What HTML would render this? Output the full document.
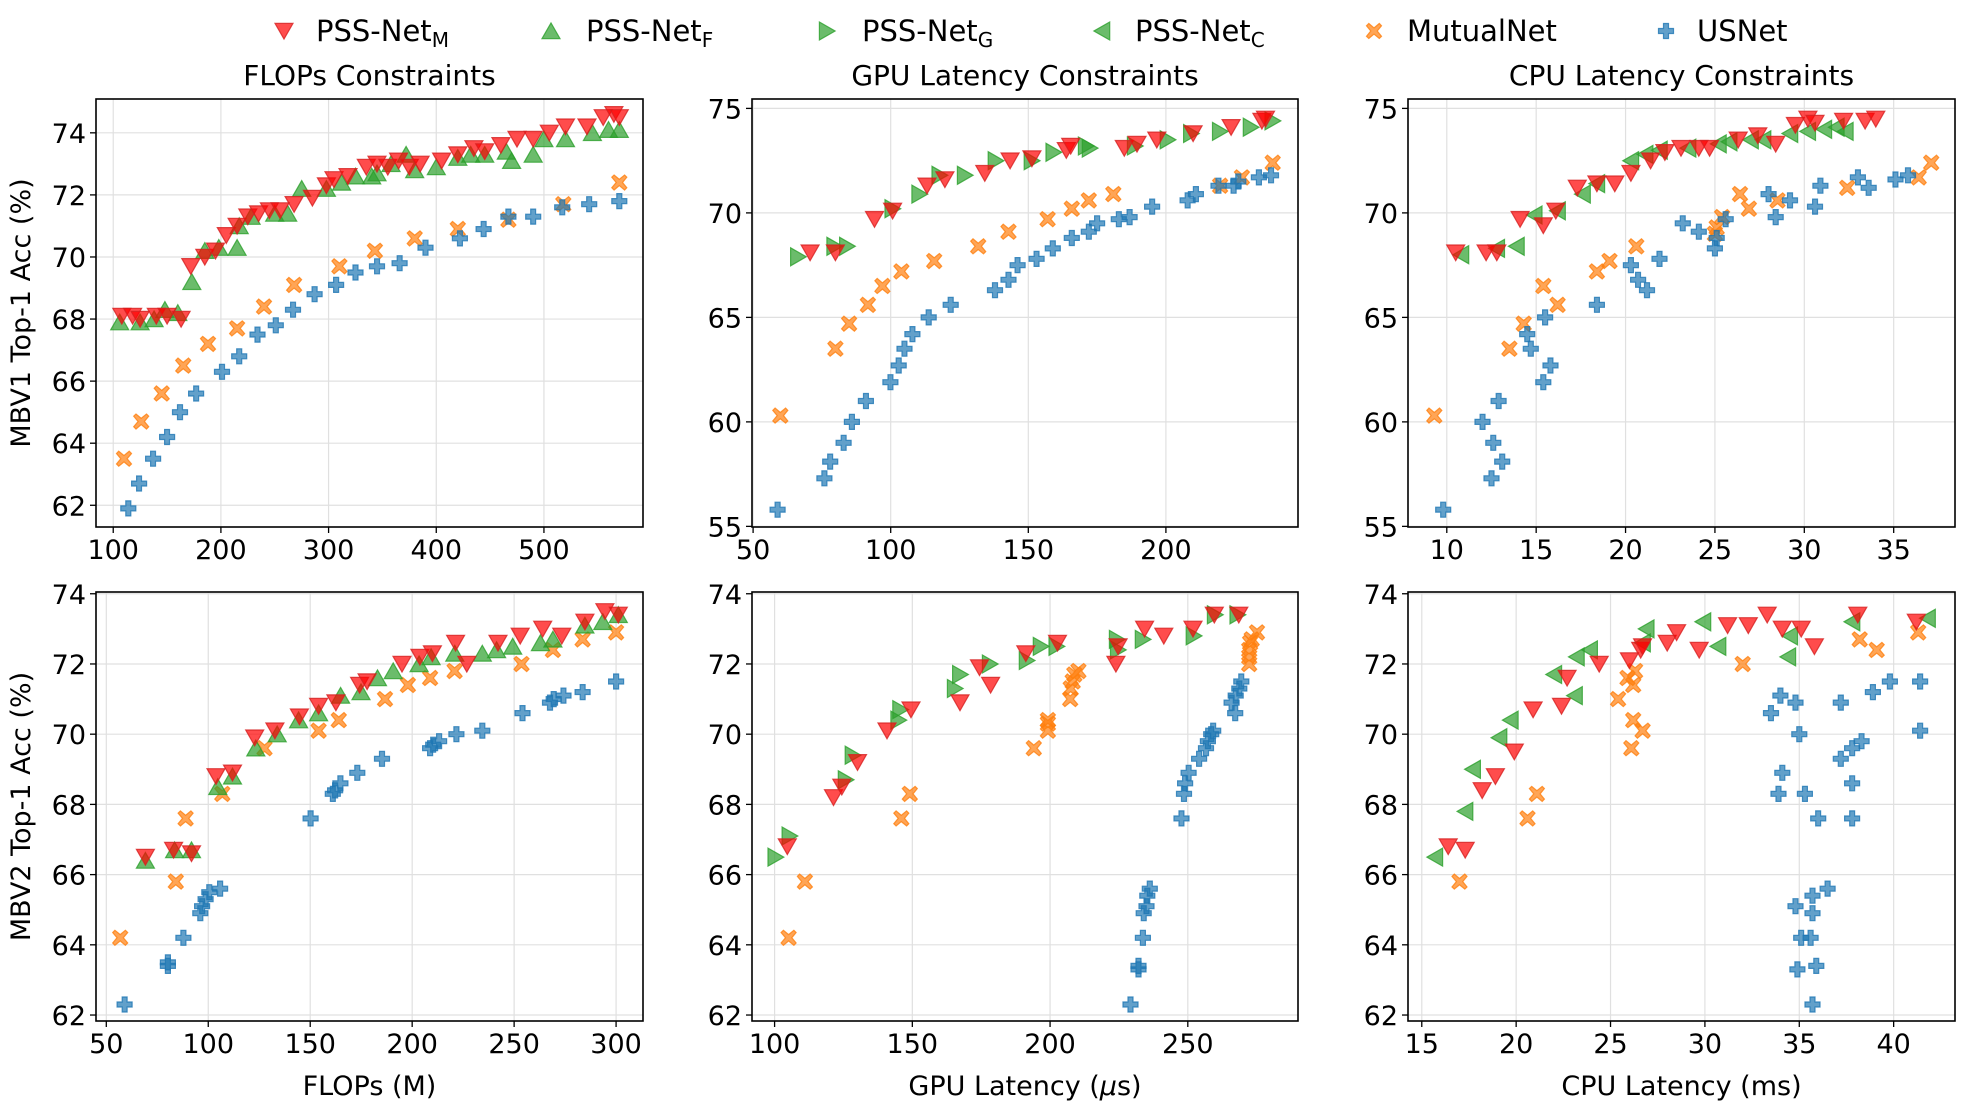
<!DOCTYPE html>
<html><head><meta charset="utf-8"><style>
body{margin:0;background:#fff;}
svg{display:block;font-family:"DejaVu Sans","Liberation Sans",sans-serif;}
</style></head><body>
<svg id="fig" width="1964" height="1111" viewBox="0 0 1964 1111" xmlns="http://www.w3.org/2000/svg"></svg>
<script>
// ---------- Data: Panel A (MBV1, FLOPs) ----------
const aMx=[108,118,125,140,150,163,172,185,195,205,215,225,235,245,255,268,285,298,305,318,335,345,355,365,375,385,405,420,435,445,460,475,490,505,520,540,555,565,570];
const aMy=[68.1,68.1,68.0,68.1,68.1,68.0,69.7,70.0,70.2,70.7,71.0,71.3,71.4,71.5,71.5,71.7,71.9,72.3,72.5,72.6,72.9,73.0,72.9,73.1,72.9,73.0,73.1,73.3,73.5,73.4,73.6,73.8,73.8,74.0,74.2,74.2,74.5,74.6,74.5];
const aFx=[106,125,138,148,160,173,185,198,215,217,228,250,262,275,298,312,325,340,345,358,372,380,400,420,432,445,465,470,490,500,520,545,560,570];
const aFy=[67.9,67.9,68.0,68.3,68.2,69.2,70.2,70.3,70.3,71.0,71.3,71.4,71.4,72.2,72.2,72.4,72.6,72.6,72.7,73.0,73.3,72.8,72.9,73.2,73.3,73.3,73.4,73.1,73.3,73.8,73.8,74.0,74.1,74.1];
const aMUx=[110,126,145,165,188,215,240,268,310,343,380,420,467,518,570];
const aMUy=[63.5,64.7,65.6,66.5,67.2,67.7,68.4,69.1,69.7,70.2,70.6,70.9,71.2,71.7,72.4];
const aUSx=[114,124,137,150,162,177,201,217,234,251,267,287,307,325,345,366,390,422,444,467,490,517,542,570];
const aUSy=[61.9,62.7,63.5,64.2,65.0,65.6,66.3,66.8,67.5,67.8,68.3,68.8,69.1,69.5,69.7,69.8,70.3,70.6,70.9,71.3,71.3,71.6,71.7,71.8];
// ---------- Panel B (MBV1, GPU) ----------
const bGx=[66.4,79.6,84.2,100.7,110.5,117.8,127,138.2,151.3,159.2,171,172.4,188.8,200.7,209.2,219.7,230.9,238.8];
const bGy=[67.9,68.4,68.4,70.2,70.9,71.8,71.8,72.5,72.5,72.9,73.2,73.1,73.2,73.5,73.8,73.9,74.1,74.4];
const bMx=[70.7,79.9,94.1,100.7,113.2,119.7,134.2,143.4,151.3,163.8,165.4,184.9,189.5,196.7,209.9,223.7,234.9,236.2];
const bMy=[68.1,68.1,69.7,70.1,71.3,71.6,71.9,72.5,72.6,73.0,73.2,73.1,73.3,73.5,73.8,74.1,74.4,74.5];
const bMUx=[59.9,79.9,84.9,91.7,97,103.9,115.8,131.8,142.8,157,165.8,172,180.9,219.7,227.6,238.8];
const bMUy=[60.3,63.5,64.7,65.6,66.5,67.2,67.7,68.4,69.1,69.7,70.2,70.6,70.9,71.3,71.7,72.4];
const bUSx=[58.9,75.9,78,82.9,85.9,91,99.9,102.9,105,107.9,113.8,121.8,137.9,142.8,146.1,153,158.9,165.8,172,175,182.9,186.8,195,207.9,210.9,219.1,224.6,226.3,233.8,238.2];
const bUSy=[55.8,57.3,58.1,59.0,60.0,61.0,61.9,62.7,63.5,64.2,65.0,65.6,66.3,66.8,67.5,67.8,68.3,68.8,69.1,69.5,69.7,69.8,70.3,70.6,70.9,71.3,71.3,71.5,71.7,71.8];
// ---------- Panel C (MBV1, CPU) ----------
const cCx=[10.8,12.8,13.9,14.9,16.2,17.6,18.4,20.3,21.1,21.9,23.5,25.2,25.8,27,27.7,29.2,30.2,31.1,31.8,32.3];
const cCy=[68.0,68.3,68.4,69.9,70.1,70.9,71.4,72.5,72.8,73.0,73.1,73.3,73.4,73.5,73.5,73.8,73.9,74.0,74.1,73.9];
const cMx=[10.5,12.2,12.8,14.1,15.4,16.1,17.3,18.4,19.4,20.3,21.4,22.2,23.1,24.1,24.7,26.3,27.4,28.4,29.5,30.2,30.6,32.2,33.4,34];
const cMy=[68.1,68.1,68.1,69.7,69.4,70.1,71.2,71.4,71.4,71.9,72.5,72.9,73.1,73.1,73.1,73.5,73.7,73.3,74.2,74.5,74.3,74.4,74.4,74.5];
const cMUx=[9.3,13.5,14.3,16.2,15.4,18.4,19.1,20.6,25,25.1,25.4,26.9,26.4,28.5,32.4,36.4,37.1];
const cMUy=[60.3,63.5,64.7,65.6,66.5,67.2,67.7,68.4,69.0,69.3,69.8,70.2,70.9,70.6,71.2,71.7,72.4];
const cUSx=[9.8,12.5,13.1,12.6,12.0,12.9,15.4,15.8,14.7,14.5,15.5,18.4,21.2,20.7,20.3,21.9,25,25.1,24.1,23.2,25.6,28.4,30.6,28,29.2,30.9,33,33.6,35.1,35.8];
const cUSy=[55.8,57.3,58.1,59.0,60.0,61.0,61.9,62.7,63.5,64.2,65.0,65.6,66.3,66.8,67.5,67.8,68.3,68.8,69.1,69.5,69.7,69.8,70.3,70.9,70.6,71.3,71.7,71.2,71.6,71.8];
// ---------- Panel D (MBV2, FLOPs) ----------
const dMx=[69.2,83,91.8,103.8,111.9,122.8,132.7,144.7,154.1,162.6,174.2,177.9,195,203.8,209.9,221.3,226.8,242.1,253,264,273.4,284.7,294.5,301.1];
const dMy=[66.5,66.7,66.6,68.8,68.9,69.9,70.1,70.5,70.8,70.9,71.4,71.5,72.0,72.2,72.3,72.6,72.0,72.6,72.8,73.0,72.8,73.2,73.5,73.4];
const dFx=[69.2,83.5,91.8,104.7,111.9,123.3,133.8,144.3,154.1,164.9,174.9,183,190.7,203.4,209.3,220.9,234.4,241.4,249.3,262.9,269,284.7,293.5,301.1];
const dFy=[66.4,66.7,66.7,68.5,68.8,69.6,70.0,70.4,70.6,71.1,71.2,71.6,71.8,72.0,72.2,72.3,72.3,72.4,72.5,72.6,72.7,73.1,73.2,73.4];
const dMUx=[56.8,84.1,88.9,106.9,127.6,154.1,164,186.7,197.9,208.8,220.8,253.6,269,283.6,300];
const dMUy=[64.2,65.8,67.6,68.3,69.6,70.1,70.4,71.0,71.4,71.6,71.8,72.0,72.4,72.7,72.9];
const dUSx=[59,80.2,80.2,87.8,96.1,97,98.7,100.5,105.8,150.2,161.1,162.2,164.8,173.1,185.2,208.8,210.3,213.2,221.7,234.4,254.1,267.6,269.4,274.2,283.6,300];
const dUSy=[62.3,63.4,63.5,64.2,64.9,65.1,65.3,65.5,65.6,67.6,68.3,68.4,68.6,68.9,69.3,69.6,69.7,69.8,70.0,70.1,70.6,70.9,71.0,71.1,71.2,71.5];
// ---------- Panel E (MBV2, GPU) ----------
const eGx=[100.4,105.5,125.9,128.4,145,145.7,165.5,167.4,178.2,191.6,196.7,202.4,224.3,224.7,233.7,252.2,259.9,268.1];
const eGy=[66.5,67.1,68.7,69.4,70.4,70.7,71.3,71.7,72.0,72.1,72.5,72.5,72.7,72.4,72.7,72.8,73.4,73.4];
const eMx=[104.6,121.4,124.4,130.1,140.8,149.5,167.3,174.4,178.4,191.2,202.7,223.9,224.7,234.3,241.3,251.9,259.6,268.5];
const eMy=[66.8,68.2,68.5,69.2,70.1,70.7,70.9,71.9,71.4,72.3,72.6,72.0,72.5,73.0,72.8,73.0,73.4,73.4];
const eMUx=[105.1,111,146,149.1,194.1,199.2,199.2,199.2,207.3,207.5,208.2,208.8,210.3,272.3,272.3,272.3,272.6,273.2,275.1];
const eMUy=[64.2,65.8,67.6,68.3,69.6,70.1,70.3,70.4,71.0,71.3,71.5,71.7,71.8,72.0,72.2,72.4,72.6,72.7,72.9];
const eUSx=[229.2,232.1,232.1,233.7,234,235,235.3,236.2,247.7,248.6,249,250.3,254.1,256.6,257.3,258.5,259.2,267.2,265.9,267.4,268.7,269.4];
const eUSy=[62.3,63.3,63.4,64.2,64.9,65.1,65.4,65.6,67.6,68.3,68.6,68.9,69.3,69.6,69.8,70.0,70.1,70.6,70.9,71.1,71.3,71.5];
// ---------- Panel F (MBV2, CPU) ----------
const fCx=[15.7,17.3,17.7,19.1,19.7,22.0,23.1,23.2,23.9,26.7,26.9,29.9,30.7,34.5,34.4,37.8,41.8];
const fCy=[66.5,67.8,69.0,69.9,70.4,71.7,71.1,72.2,72.4,72.6,73.0,73.2,72.5,72.8,72.2,73.2,73.3];
const fMx=[16.4,17.3,18.2,18.9,19.9,20.9,22.4,22.7,24.4,26,26.6,26.7,28,28.5,29.7,31.2,32.3,33.3,34.1,35.1,35.8,38.1,41.2];
const fMy=[66.8,66.7,68.4,68.8,69.5,70.7,70.8,71.6,72.0,72.1,72.4,72.5,72.6,72.9,72.4,73.1,73.1,73.4,73.0,73.0,72.5,73.4,73.2];
const fMUx=[17,20.6,21.1,25.4,25.9,26.3,26.2,26.2,26.7,26.1,32,38.2,39.1,41.3];
const fMUy=[65.8,67.6,68.3,71.0,71.6,71.8,71.4,70.4,70.1,69.6,72.0,72.7,72.4,72.9];
const fUSx=[35.7,34.9,35.9,35.1,35.6,34.8,35.7,35.7,36.5,33.9,35.3,34.1,36,37.8,37.8,37.2,37.8,38.3,35,33.5,34,34.8,37.2,38.9,39.8,41.4,41.4];
const fUSy=[62.3,63.3,63.4,64.2,64.2,65.1,64.9,65.4,65.6,68.3,68.3,68.9,67.6,67.6,68.6,69.3,69.6,69.8,70.0,70.6,71.1,70.9,70.9,71.2,71.5,71.5,70.1];
// ---------- Axis ticks ----------
const ticksXA=[100,200,300,400,500];
const ticksXB=[50,100,150,200];
const ticksXC=[10,15,20,25,30,35];
const ticksXD=[50,100,150,200,250,300];
const ticksXE=[100,150,200,250];
const ticksXF=[15,20,25,30,35,40];
const ticksY1A=[62,64,66,68,70,72,74];
const ticksY1B=[55,60,65,70,75];
const ticksY2=[62,64,66,68,70,72,74];

const NS="http://www.w3.org/2000/svg";
const svg=document.getElementById('fig');
function mk(tag,attrs,parent){const e=document.createElementNS(NS,tag);for(const k in attrs)e.setAttribute(k,attrs[k]);(parent||svg).appendChild(e);return e;}

const COL={M:['#ff0000','#d62020'],F:['#2ca02c','#2ca02c'],G:['#2ca02c','#2ca02c'],C:['#2ca02c','#2ca02c'],MU:['#ff7f0e','#ff7f0e'],US:['#1f77b4','#1f77b4']};
function markerPts(kind,cx,cy,s){
  let p;
  if(kind==='M')p=[[-1,-0.85],[1,-0.85],[0,0.9]];
  else if(kind==='F')p=[[-1,0.85],[1,0.85],[0,-0.9]];
  else if(kind==='G')p=[[-0.85,-1],[-0.85,1],[0.9,0]];
  else if(kind==='C')p=[[0.85,-1],[0.85,1],[-0.9,0]];
  else if(kind==='US'){const a=0.33;p=[[-a,-1],[a,-1],[a,-a],[1,-a],[1,a],[a,a],[a,1],[-a,1],[-a,a],[-1,a],[-1,-a],[-a,-a]];}
  else {const a=0.3,b=1;p=[[0,-a*1.4],[b-a,-b],[b,-(b-a)],[a*1.4,0],[b,b-a],[b-a,b],[0,a*1.4],[-(b-a),b],[-b,b-a],[-a*1.4,0],[-b,-(b-a)],[-(b-a),-b]];}
  return p.map(q=>(cx+q[0]*s).toFixed(1)+','+(cy+q[1]*s).toFixed(1)).join(' ');
}
function drawMarker(kind,cx,cy,g,name){
  const s=(kind==='MU'||kind==='US')?7.5:9;
  const el=mk('polygon',{points:markerPts(kind,cx,cy,s),fill:COL[kind][0],'fill-opacity':0.7,stroke:COL[kind][1],'stroke-opacity':0.8,'stroke-width':1.2},g);
  
  
}

function panel(o){
  const g=mk('g',{});
  
  
  const L=o.box[0],T=o.box[1],R=o.box[2],B=o.box[3];
  const sx=v=>L+(v-o.xl[0])/(o.xl[1]-o.xl[0])*(R-L);
  const sy=v=>B-(v-o.yl[0])/(o.yl[1]-o.yl[0])*(B-T);
  const clip='clip-'+o.name;
  const cp=mk('clipPath',{id:clip},g);mk('rect',{x:L,y:T,width:R-L,height:B-T},cp);
  const grid=mk('g',{},g);
  
  
  o.xt.forEach(v=>{const x=sx(v);
    mk('line',{x1:x,x2:x,y1:T,y2:B,stroke:'#e0e0e0','stroke-width':1.2},grid);
    mk('line',{x1:x,x2:x,y1:B,y2:B+6,stroke:'#000','stroke-width':1.3},g);
    const t=mk('text',{x:x,y:B+32,'font-size':27,'text-anchor':'middle',fill:'#000'},g);t.textContent=v;
    
    
  });
  o.yt.forEach(v=>{const y=sy(v);
    mk('line',{x1:L,x2:R,y1:y,y2:y,stroke:'#e0e0e0','stroke-width':1.2},grid);
    mk('line',{x1:L-6,x2:L,y1:y,y2:y,stroke:'#000','stroke-width':1.3},g);
    const t=mk('text',{x:L-10,y:y+10,'font-size':27,'text-anchor':'end',fill:'#000'},g);t.textContent=v;
    
    
  });
  const mg=mk('g',{'clip-path':'url(#'+clip+')'},g);
  
  
  o.series.forEach(s=>{for(let i=0;i<s.x.length;i++)drawMarker(s.k,sx(s.x[i]),sy(s.y[i]),mg,s.n+'-point');});
  const fr=mk('rect',{x:L,y:T,width:R-L,height:B-T,fill:'none',stroke:'#000','stroke-width':1.6},g);
  
  
  if(o.title){const t=mk('text',{x:(L+R)/2,y:T-14,'font-size':28,'text-anchor':'middle'},g);t.textContent=o.title;
    
    }
  if(o.xlabel){const t=mk('text',{x:(L+R)/2,y:1095,'font-size':27,'text-anchor':'middle'},g);t.innerHTML=o.xlabel;
    
    }
  if(o.ylabel){const cy=(T+B)/2;const t=mk('text',{x:0,y:0,'font-size':27,'text-anchor':'middle',transform:'translate(30,'+cy+') rotate(-90)'},g);t.textContent=o.ylabel;
    
    }
}
const R1=[99,527],R2=[592,1021];
const C1=[96,643],C2=[752,1298],C3=[1408,1955];
panel({name:'panel-mbv1-flops',box:[C1[0],R1[0],C1[1],R1[1]],xl:[84,592],yl:[61.3,75.09],xt:ticksXA,yt:ticksY1A,title:'FLOPs Constraints',ylabel:'MBV1 Top-1 Acc (%)',
 series:[{k:'MU',x:aMUx,y:aMUy,n:'mutualnet'},{k:'US',x:aUSx,y:aUSy,n:'usnet'},{k:'F',x:aFx,y:aFy,n:'pss-net-f'},{k:'M',x:aMx,y:aMy,n:'pss-net-m'}]});
panel({name:'panel-mbv1-gpu',box:[C2[0],R1[0],C2[1],R1[1]],xl:[49.6,248],yl:[54.97,75.45],xt:ticksXB,yt:ticksY1B,title:'GPU Latency Constraints',
 series:[{k:'MU',x:bMUx,y:bMUy,n:'mutualnet'},{k:'US',x:bUSx,y:bUSy,n:'usnet'},{k:'G',x:bGx,y:bGy,n:'pss-net-g'},{k:'M',x:bMx,y:bMy,n:'pss-net-m'}]});
panel({name:'panel-mbv1-cpu',box:[C3[0],R1[0],C3[1],R1[1]],xl:[7.83,38.43],yl:[54.97,75.45],xt:ticksXC,yt:ticksY1B,title:'CPU Latency Constraints',
 series:[{k:'MU',x:cMUx,y:cMUy,n:'mutualnet'},{k:'US',x:cUSx,y:cUSy,n:'usnet'},{k:'C',x:cCx,y:cCy,n:'pss-net-c'},{k:'M',x:cMx,y:cMy,n:'pss-net-m'}]});
panel({name:'panel-mbv2-flops',box:[C1[0],R2[0],C1[1],R2[1]],xl:[44.95,313.2],yl:[61.83,74.05],xt:ticksXD,yt:ticksY2,xlabel:'FLOPs (M)',ylabel:'MBV2 Top-1 Acc (%)',
 series:[{k:'MU',x:dMUx,y:dMUy,n:'mutualnet'},{k:'US',x:dUSx,y:dUSy,n:'usnet'},{k:'F',x:dFx,y:dFy,n:'pss-net-f'},{k:'M',x:dMx,y:dMy,n:'pss-net-m'}]});
panel({name:'panel-mbv2-gpu',box:[C2[0],R2[0],C2[1],R2[1]],xl:[91.8,290],yl:[61.83,74.05],xt:ticksXE,yt:ticksY2,xlabel:'GPU Latency (<tspan font-style="italic">μ</tspan>s)',
 series:[{k:'MU',x:eMUx,y:eMUy,n:'mutualnet'},{k:'US',x:eUSx,y:eUSy,n:'usnet'},{k:'G',x:eGx,y:eGy,n:'pss-net-g'},{k:'M',x:eMx,y:eMy,n:'pss-net-m'}]});
panel({name:'panel-mbv2-cpu',box:[C3[0],R2[0],C3[1],R2[1]],xl:[14.27,43.25],yl:[61.83,74.05],xt:ticksXF,yt:ticksY2,xlabel:'CPU Latency (ms)',
 series:[{k:'MU',x:fMUx,y:fMUy,n:'mutualnet'},{k:'US',x:fUSx,y:fUSy,n:'usnet'},{k:'C',x:fCx,y:fCy,n:'pss-net-c'},{k:'M',x:fMx,y:fMy,n:'pss-net-m'}]});

// legend
const lg=mk('g',{});


const legendItems=[['M',284,316,'PSS-Net','M'],['F',551,586,'PSS-Net','F'],['G',827,862,'PSS-Net','G'],['C',1102,1135,'PSS-Net','C'],['MU',1374,1407,'MutualNet',''],['US',1666,1697,'USNet','']];
legendItems.forEach(it=>{
  const eg=mk('g',{},lg);
  
  
  drawMarker(it[0],it[1],31,eg,'legend-marker');
  const t=mk('text',{x:it[2],y:41,'font-size':29},eg);
  t.textContent=it[3];
  if(it[4]){const ts=mk('tspan',{'font-size':20,dy:6},t);ts.textContent=it[4];}
});
</script>
</body></html>
